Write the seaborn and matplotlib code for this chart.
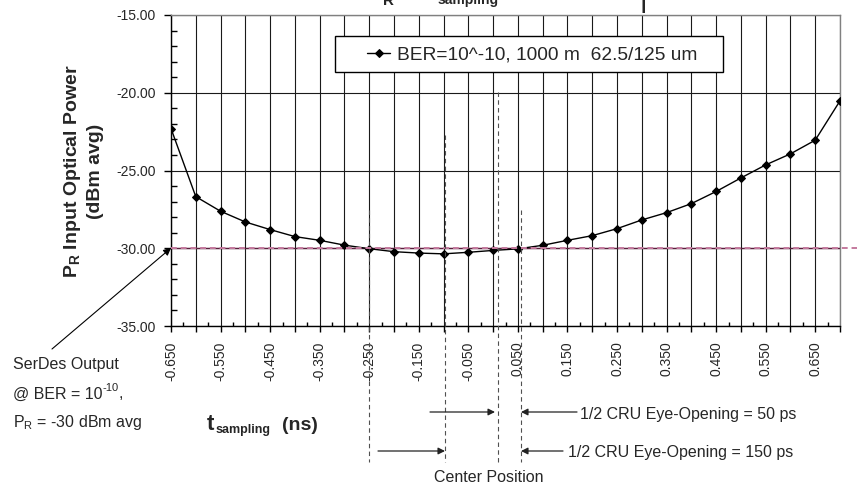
import numpy as np
import matplotlib
matplotlib.use("Agg")
import matplotlib.pyplot as plt
import seaborn as sns
import pandas as pd
from matplotlib.lines import Line2D
from matplotlib.patches import Rectangle, FancyArrowPatch
from matplotlib.ticker import MultipleLocator
from matplotlib.transforms import blended_transform_factory

# ---------------- data ----------------
t_sampling = [-0.65, -0.60, -0.55, -0.50, -0.45, -0.40, -0.35, -0.30, -0.25, -0.20,
              -0.15, -0.10, -0.05, 0.00, 0.05, 0.10, 0.15, 0.20, 0.25, 0.30,
              0.35, 0.40, 0.45, 0.50, 0.55, 0.60, 0.65, 0.70]
p_r = [-22.30, -26.68, -27.62, -28.31, -28.80, -29.25, -29.49, -29.80, -30.03, -30.22,
       -30.31, -30.36, -30.26, -30.14, -30.04, -29.81, -29.49, -29.19, -28.74, -28.18,
       -27.71, -27.13, -26.35, -25.48, -24.64, -23.93, -23.05, -20.52]
series_label = "BER=10^-10, 1000 m  62.5/125 um"
xtick_labels = ["-0.650", "", "-0.550", "", "-0.450", "", "-0.350", "", "-0.250", "",
                "-0.150", "", "-0.050", "", "0.050", "", "0.150", "", "0.250", "",
                "0.350", "", "0.450", "", "0.550", "", "0.650", ""]
ytick_values = [-35, -30, -25, -20, -15]
ytick_labels = ["-35.00", "-30.00", "-25.00", "-20.00", "-15.00"]
reference_level = -30

df = pd.DataFrame({"t": t_sampling, "p": p_r})

# ---------------- style ----------------
sns.set_style("white")
FONT = ["Liberation Sans", "DejaVu Sans"]
plt.rcParams["font.family"] = FONT
plt.rcParams["mathtext.fontset"] = "custom"
plt.rcParams["mathtext.rm"] = "Liberation Sans"
plt.rcParams["mathtext.bf"] = "Liberation Sans:bold"
plt.rcParams["mathtext.it"] = "Liberation Sans:italic"

W, H = 857, 487
fig = plt.figure(figsize=(W / 100, H / 100), dpi=100)
fig.patch.set_facecolor("white")

def fx(x):
    return x / W

def fy(y):
    return 1 - y / H

L, R, T, B = 171, 840, 15, 326
ax = fig.add_axes([fx(L), fy(B), (R - L) / W, (B - T) / H])
ax.set_facecolor("white")

sns.lineplot(data=df, x="t", y="p", ax=ax, color="black", lw=1.0,
             marker="D", markersize=4, markeredgecolor="black",
             markerfacecolor="black", label=series_label, zorder=5)

ax.set_xlim(-0.65, 0.70)
ax.set_ylim(-35, -15)
ax.set_xlabel("")
ax.set_ylabel("")

ax.set_xticks(t_sampling)
ax.set_xticklabels(xtick_labels, rotation=90)
ax.set_xticks(np.array(t_sampling[:-1]) + 0.025, minor=True)
ax.set_yticks(ytick_values)
ax.set_yticklabels(ytick_labels)
ax.yaxis.set_minor_locator(MultipleLocator(1))

ax.tick_params(axis="x", which="major", direction="out", length=4, width=1,
               pad=7, labelsize=10, color="black", bottom=True)
ax.tick_params(axis="x", which="minor", direction="in", length=3, width=1,
               color="black", bottom=True)
ax.tick_params(axis="y", which="major", direction="out", length=5, width=1,
               pad=6, labelsize=10, color="black", left=True)
ax.tick_params(axis="y", which="minor", direction="in", length=4, width=1,
               color="black", left=True)

ax.grid(True, which="major", axis="both", color="#1a1a1a", lw=0.8)
ax.set_axisbelow(True)

for side in ["left", "bottom"]:
    ax.spines[side].set_color("black")
    ax.spines[side].set_linewidth(1.0)
for side in ["top", "right"]:
    ax.spines[side].set_color("#808080")
    ax.spines[side].set_linewidth(1.0)

# reference level line (-30 dBm)
ax.axhline(reference_level, color="#5a1e3c", lw=1.0, zorder=3)
btf = blended_transform_factory(fig.transFigure, ax.transData)
fig.add_artist(Line2D([fx(L), 1.0], [reference_level, reference_level],
                      transform=btf, color="#c47a9e", lw=1.4,
                      ls=(0, (3, 2)), zorder=6, clip_on=False))

# legend
leg_ax = ax.get_legend()
if leg_ax is not None:
    leg_ax.remove()
handles, labels = ax.get_legend_handles_labels()
fig.add_artist(Rectangle((fx(335), fy(72)), fx(723) - fx(335), (72 - 36) / H,
                         transform=fig.transFigure, facecolor="white",
                         edgecolor="black", lw=1.0, zorder=7))
leg = fig.legend(handles, labels, loc="center left",
                 bbox_to_anchor=(fx(367), fy(55)), frameon=False,
                 borderpad=0, borderaxespad=0, handlelength=1.2,
                 handletextpad=0.36,
                 prop={"family": FONT, "size": 13.8})
leg.set_zorder(8)

# y label
fig.text(fx(83), fy(171), r"$\mathbf{P_R}$ Input Optical Power" + "\n(dBm avg)",
         rotation=90, ha="center", va="center", fontsize=14,
         fontweight="bold", linespacing=1.3, multialignment="center")

# x label
fig.text(fx(207), fy(430), "t", fontsize=16, fontweight="bold",
         va="baseline", ha="left")
fig.text(fx(216), fy(433), "sampling", fontsize=9, fontweight="bold",
         va="baseline", ha="left")
fig.text(fx(282), fy(430), "(ns)", fontsize=14, fontweight="bold",
         va="baseline", ha="left")

# cropped title fragments
fig.text(fx(383), fy(5), "R", fontsize=11, fontweight="bold",
         va="baseline", ha="left")
fig.text(fx(438), fy(4), "sampling", fontsize=10, fontweight="bold",
         va="baseline", ha="left")
fig.text(fx(640), fy(13), "|", fontsize=14, fontweight="bold",
         va="bottom", ha="left")

# SerDes annotation
ANN = 11.5
fig.text(fx(13), fy(365), "SerDes Output", fontsize=ANN, ha="left", va="center")
t1 = fig.text(fx(13), fy(394), "@ BER = 10", fontsize=ANN, ha="left", va="center")
renderer = fig.canvas.get_renderer()
bb = t1.get_window_extent(renderer=renderer)
sup = fig.text(bb.x1 / W, fy(388), "-10", fontsize=8, ha="left", va="center")
bb2 = sup.get_window_extent(renderer=renderer)
fig.text(bb2.x1 / W, fy(394), ",", fontsize=ANN, ha="left", va="center")
fig.text(fx(13), fy(423), r"P$_{\mathrm{R}}$ = -30 dBm avg", fontsize=ANN,
         ha="left", va="center")
fig.add_artist(FancyArrowPatch((fx(52), fy(349)), (fx(L), fy(248)),
                               transform=fig.transFigure, arrowstyle="-|>",
                               mutation_scale=11, lw=0.8, color="black",
                               shrinkA=0, shrinkB=0, zorder=6))

# dashed marker lines
for xp, ytop in [(369, 210), (445, 135), (498, 92), (521, 210)]:
    fig.add_artist(Line2D([fx(xp), fx(xp)], [fy(ytop), fy(462)],
                          transform=fig.transFigure, color="#505050", lw=0.8,
                          ls=(0, (4, 3)), zorder=6))

# arrows
for (x0, x1, yy) in [(430, 495, 412), (577, 521, 412), (378, 445, 451), (563, 521, 451)]:
    fig.add_artist(FancyArrowPatch((fx(x0), fy(yy)), (fx(x1), fy(yy)),
                                   transform=fig.transFigure, arrowstyle="-|>",
                                   mutation_scale=10, lw=0.9, color="#222222",
                                   shrinkA=0, shrinkB=0, zorder=6))

fig.text(fx(580), fy(414), "1/2 CRU Eye-Opening = 50 ps", fontsize=ANN,
         ha="left", va="center")
fig.text(fx(568), fy(453), "1/2 CRU Eye-Opening = 150 ps", fontsize=ANN,
         ha="left", va="center")
fig.text(fx(434), fy(477), "Center Position", fontsize=ANN,
         ha="left", va="center")

fig.savefig("out.png", dpi=100, facecolor="white")
